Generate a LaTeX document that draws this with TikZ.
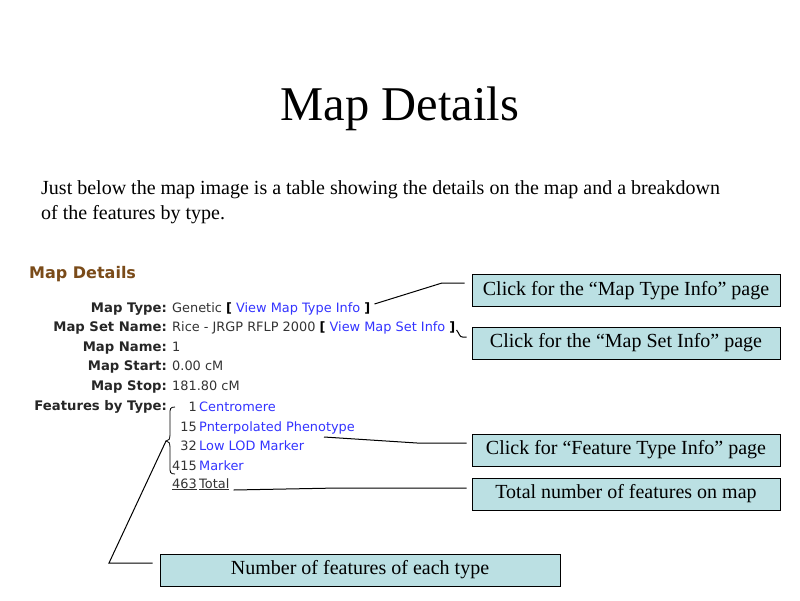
\documentclass[tikz,border=0pt]{standalone}
\usepackage{fontspec}
\setmainfont{Liberation Serif}
\newfontfamily\dejavu{DejaVu Sans}
\usetikzlibrary{calc}
\definecolor{boxfill}{RGB}{187,224,227}
\definecolor{linkblue}{RGB}{51,51,255}
\definecolor{headbrown}{RGB}{122,75,25}
\definecolor{valgray}{RGB}{51,51,51}
\begin{document}
\begin{tikzpicture}[x=1pt,y=-1pt,
  callout/.style={draw=black, line width=1pt, fill=boxfill, minimum width=308pt, minimum height=32pt, inner sep=0pt, font=\fontsize{20}{23}\selectfont},
  lbl/.style={anchor=base east, inner sep=0pt, font=\dejavu\bfseries\fontsize{13.2}{15}\selectfont, text=black!85},
  val/.style={anchor=base west, inner sep=0pt, font=\dejavu\fontsize{12.9}{15}\selectfont, text=valgray},
  num/.style={anchor=base east, inner sep=0pt, font=\dejavu\fontsize{12.9}{15}\selectfont, text=valgray},
  lnk/.style={anchor=base west, inner sep=0pt, font=\dejavu\fontsize{12.9}{15}\selectfont, text=linkblue},
  conn/.style={line width=1pt},
  para/.style={anchor=base west, inner sep=0pt, font=\fontsize{20}{25}\selectfont}]
\useasboundingbox (0,0) rectangle (800,600);

\node[anchor=base, inner sep=0pt, font=\fontsize{48.5}{50}\selectfont] (title) at (400,120) {Map Details};
\node[para] (par1) at (41,194) {Just below the map image is a table showing the details on the map and a breakdown};
\node[para] (par2) at (41,219) {of the features by type.};

\node[anchor=base west, inner sep=0pt, font=\dejavu\bfseries\fontsize{16}{18}\selectfont, text=headbrown] (head) at (29,278) {Map Details};

\node[lbl] (l1) at (167,312) {Map Type:};
\node[lbl] (l2) at (167,331) {Map Set Name:};
\node[lbl] (l3) at (167,351) {Map Name:};
\node[lbl] (l4) at (167,370) {Map Start:};
\node[lbl] (l5) at (167,390) {Map Stop:};
\node[lbl] (l6) at (167,410) {Features by Type:};

\node[val] (v1) at (172,312) {Genetic \textcolor{black}{\bfseries[} \textcolor{linkblue}{View Map Type Info} \textcolor{black}{\bfseries]}};
\node[val] (v2) at (172,331) {Rice - JRGP RFLP 2000 \textcolor{black}{\bfseries[} \textcolor{linkblue}{View Map Set Info} \textcolor{black}{\bfseries]}};
\node[val] (v3) at (172,351) {1};
\node[val] (v4) at (172,370) {0.00 cM};
\node[val] (v5) at (172,390) {181.80 cM};

\node[num] (c1n) at (197,411) {1};
\node[lnk] (c1) at (199,411) {Centromere};
\node[num] (c2n) at (197,431) {15};
\node[lnk] (c2) at (199,431) {Pnterpolated Phenotype};
\node[num] (c3n) at (197,450) {32};
\node[lnk] (c3) at (199,450) {Low LOD Marker};
\node[num] (c4n) at (197,470) {415};
\node[lnk] (c4) at (199,470) {Marker};
\node[num] (totn) at (197,488) {\underline{463}};
\node[val] (tot) at (199,488) {\underline{Total}};

% brace
\coordinate (bracetip) at (166,441);
\draw[line width=0.8pt] (175,407) .. controls (170,407) and (170,409) .. (170,414) -- (170,434)
  .. controls (170,439) and (169,441) .. (bracetip)
  .. controls (169,441) and (170,443) .. (170,448) -- (170,467)
  .. controls (170,472) and (170,474) .. (175,474);

% callout boxes
\node[callout] (box1) at (626,290.5) {Click for the “Map Type Info” page};
\node[callout] (box2) at (626,343) {Click for the “Map Set Info” page};
\node[callout] (box3) at (626,450) {Click for “Feature Type Info” page};
\node[callout] (box4) at (626,494) {Total number of features on map};
\node[callout, minimum width=400pt] (box5) at (360,570) {Number of features of each type};

% connectors
\draw[conn] ($(v1.base east)+(4,-8)$) -- (442,283) -- ($(box1.west)+(-7,-7.5)$);
\draw[conn] ($(v2.base east)+(1,-1)$) .. controls +(3,4) and +(-3,0) .. ($(box2.west)+(-9,-6)$) -- ($(box2.west)+(-5,-6)$);
\draw[conn] ($(c2.base west)+(125,6)$) -- (417,443) -- ($(box3.west)+(-5,-7)$);
\draw[conn] ($(tot.base east)+(4,2)$) -- (338,488) -- ($(box4.west)+(-5,-6)$);
\draw[conn] (bracetip) -- (109,563) -- ($(box5.west)+(-7,-7)$);
\end{tikzpicture}
\end{document}
